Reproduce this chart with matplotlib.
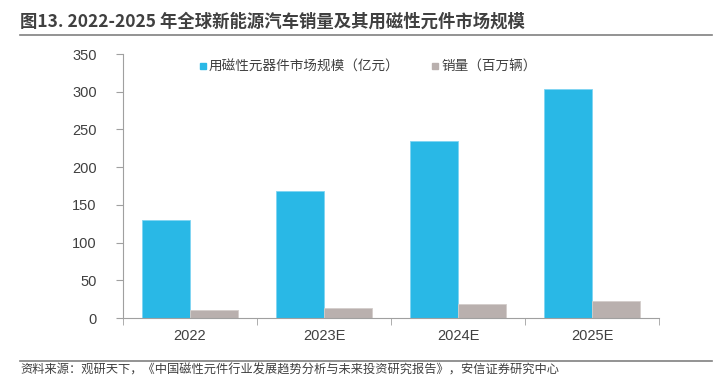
import numpy as np
import matplotlib.pyplot as plt
from matplotlib.lines import Line2D

plt.rcParams['font.family'] = ['Noto Sans CJK SC', 'DejaVu Sans']

years = ['2022', '2023E', '2024E', '2025E']
market = [130, 168, 234, 304]   # 用磁性元器件市场规模（亿元）
sales = [10.2, 13.3, 18.2, 22.6]  # 销量（百万辆）
yticks = [0, 50, 100, 150, 200, 250, 300, 350]

blue = '#29B8E6'
grey = '#B9B0AE'

fig = plt.figure(figsize=(7.23, 3.78), dpi=100)
ax = fig.add_axes([123/723, 1-318/378, (659-123)/723, (318-54)/378])

x = np.arange(len(years))
w = 0.36
ax.bar(x - w/2, market, w, color=blue, edgecolor='#7FD4F2', linewidth=0.6,
       label='用磁性元器件市场规模（亿元）')
ax.bar(x + w/2, sales, w, color=grey, edgecolor='#D3CDCB', linewidth=0.6,
       label='销量（百万辆）')

ax.set_xlim(-0.5, len(years) - 0.5)
ax.set_ylim(0, 350)
ax.set_yticks(yticks)
ax.set_xticks(x)
ax.set_xticklabels(years)
ax.set_xticks(np.arange(len(years) + 1) - 0.5, minor=True)
ax.tick_params(axis='x', which='major', length=0, pad=8, labelsize=10.5, labelcolor='#404040')
ax.tick_params(axis='x', which='minor', length=5, color='#A0A0A0', direction='out')
ax.tick_params(axis='y', length=5, color='#A0A0A0', pad=14, labelsize=10.5, labelcolor='#404040')
for lab in ax.get_xticklabels() + ax.get_yticklabels():
    lab.set_family(['Liberation Sans', 'DejaVu Sans'])
for s in ['top', 'right']:
    ax.spines[s].set_visible(False)
for s in ['left', 'bottom']:
    ax.spines[s].set_color('#A0A0A0')
    ax.spines[s].set_linewidth(0.8)

handles = [Line2D([], [], marker='s', linestyle='', color=blue, markersize=5),
           Line2D([], [], marker='s', linestyle='', color=grey, markersize=5)]
ax.legend(handles, ['用磁性元器件市场规模（亿元）', '销量（百万辆）'],
          loc='upper center', bbox_to_anchor=(0.455, 1.025), ncol=2, frameon=False,
          fontsize=9.8, handletextpad=0.05, columnspacing=2.2, handlelength=0.8,
          labelcolor='#404040')

fig.text(20/723, 1-22/378, '图13. 2022-2025 年全球新能源汽车销量及其用磁性元件市场规模',
         fontsize=12.5, fontweight='bold', color='#404040', va='center')
fig.add_artist(Line2D([20/723, 712/723], [1-35/378, 1-35/378], color='#808080', linewidth=1.2))
fig.add_artist(Line2D([20/723, 712/723], [1-361/378, 1-361/378], color='#808080', linewidth=1.2))
fig.text(20/723, 1-370/378, '资料来源：观研天下，《中国磁性元件行业发展趋势分析与未来投资研究报告》，安信证券研究中心',
         fontsize=8.8, style='italic', color='#404040', va='center')

fig.savefig('out.png', dpi=100)
